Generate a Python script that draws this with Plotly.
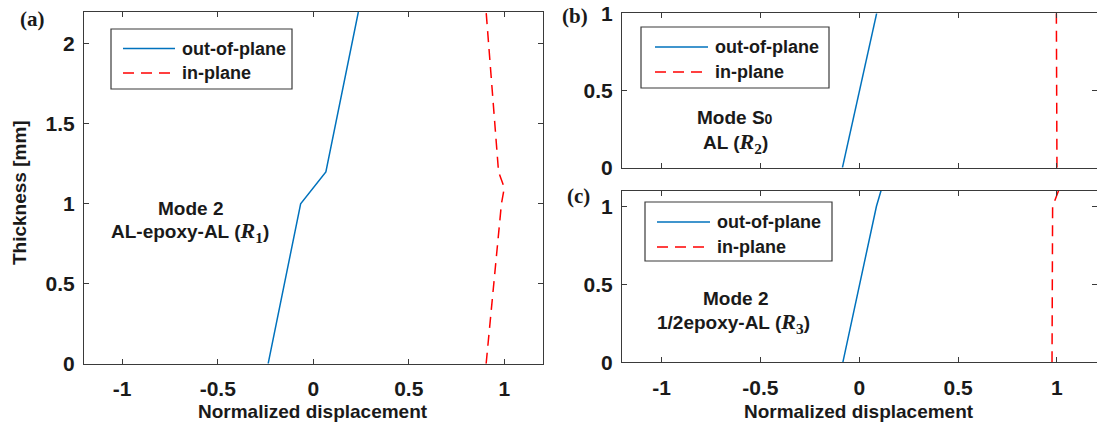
import plotly.graph_objects as go

# ---- data: normalized displacement profiles through the thickness ----
# (a) Mode 2, AL-epoxy-AL (R1)
a_out_x = [-0.236, -0.066, 0.066, 0.236]
a_out_y = [0.0, 1.0, 1.2, 2.2]
a_in_x = [0.905, 0.985, 1.0, 0.97, 0.905]
a_in_y = [0.0, 1.0, 1.1, 1.2, 2.2]

# (b) Mode S0, AL (R2)
b_out_x = [-0.085, 0.088]
b_out_y = [0.0, 1.0]
b_in_x = [1.0, 0.997]
b_in_y = [0.0, 1.0]

# (c) Mode 2, 1/2epoxy-AL (R3)
c_out_x = [-0.083, 0.087, 0.11]
c_out_y = [0.0, 1.0, 1.1]
c_in_x = [0.975, 0.978, 1.008]
c_in_y = [0.0, 1.0, 1.1]

x_ticks = [-1, -0.5, 0, 0.5, 1]
x_tick_text = ["-1", "-0.5", "0", "0.5", "1"]
ya_ticks = [0, 0.5, 1, 1.5, 2]
ya_tick_text = ["0", "0.5", "1", "1.5", "2"]
ybc_ticks = [0, 0.5, 1]
ybc_tick_text = ["0", "0.5", "1"]

series_names = ["out-of-plane", "in-plane"]

W, H = 1097, 430
BLUE = "#0072BD"
RED = "#FF0000"
AXC = "#3a3a3a"
TXT = "#1a1a1a"
SANS = "Liberation Sans, Arial, sans-serif"
SERIF = "Liberation Serif, Times New Roman, serif"
DASH = "11px,7px"


def px(x):
    return x / W


def py(y):
    return 1 - y / H


fig = go.Figure()

panels = [
    ("x", "y", a_out_x, a_out_y, a_in_x, a_in_y),
    ("x2", "y2", b_out_x, b_out_y, b_in_x, b_in_y),
    ("x3", "y3", c_out_x, c_out_y, c_in_x, c_in_y),
]
for xa, ya, ox, oy, ix, iy in panels:
    fig.add_trace(go.Scatter(x=ox, y=oy, mode="lines", name=series_names[0],
                             line=dict(color=BLUE, width=1.5),
                             xaxis=xa, yaxis=ya, showlegend=False))
    fig.add_trace(go.Scatter(x=ix, y=iy, mode="lines", name=series_names[1],
                             line=dict(color=RED, width=1.5, dash=DASH),
                             xaxis=xa, yaxis=ya, showlegend=False))

tickfont = dict(family=SANS, size=21, color=TXT, weight="bold")
common_axis = dict(showline=True, linecolor=AXC, linewidth=1, mirror="ticks",
                   ticks="inside", ticklen=5, tickcolor=AXC, tickwidth=1,
                   showgrid=False, zeroline=False, tickfont=tickfont,
                   automargin=False, fixedrange=True)

fig.update_layout(
    width=W, height=H,
    margin=dict(l=0, r=0, t=0, b=0, pad=0, autoexpand=False),
    paper_bgcolor="white", plot_bgcolor="white",
    showlegend=False,
    xaxis=dict(domain=[px(84), px(542.5)], range=[-1.2, 1.2], anchor="y",
               tickvals=x_ticks, ticktext=x_tick_text, ticklabelstandoff=6,
               **common_axis),
    yaxis=dict(domain=[py(363.7), py(12)], range=[0, 2.2], anchor="x",
               tickvals=ya_ticks, ticktext=ya_tick_text, ticklabelstandoff=4,
               **common_axis),
    xaxis2=dict(domain=[px(622), px(1096.5)], range=[-1.2, 1.2], anchor="y2",
                tickvals=x_ticks, ticktext=x_tick_text, showticklabels=False,
                **common_axis),
    yaxis2=dict(domain=[py(167.7), py(13.3)], range=[0, 1], anchor="x2",
                tickvals=ybc_ticks, ticktext=ybc_tick_text, ticklabelstandoff=4,
                **common_axis),
    xaxis3=dict(domain=[px(622), px(1096.5)], range=[-1.2, 1.2], anchor="y3",
                tickvals=x_ticks, ticktext=x_tick_text, ticklabelstandoff=6,
                **common_axis),
    yaxis3=dict(domain=[py(362.3), py(190.7)], range=[0, 1.1], anchor="x3",
                tickvals=ybc_ticks, ticktext=ybc_tick_text, ticklabelstandoff=4,
                **common_axis),
)

annot_font = dict(family=SANS, size=19, color=TXT, weight="bold")
legend_font = dict(family=SANS, size=18, color=TXT, weight="bold")
label_font = dict(family=SERIF, size=21, color=TXT, weight="bold")

# legend boxes: (left, top, right, bottom, sample start, sample end, text x, row1 y, row2 y)
legend_boxes = [
    (111, 29, 292, 89, 123, 175, 180, 48.5, 73),
    (641, 27, 829, 88, 655, 708, 713, 47, 72),
    (645, 202, 832, 261, 657, 710, 715, 222, 247),
]
shapes = []
annotations = []
for l, t, r, b, s0, s1, tx, r1, r2 in legend_boxes:
    shapes.append(dict(type="rect", xref="paper", yref="paper",
                       x0=px(l), x1=px(r), y0=py(b), y1=py(t),
                       line=dict(color=AXC, width=1.2), fillcolor="white"))
    shapes.append(dict(type="line", xref="paper", yref="paper",
                       x0=px(s0), x1=px(s1), y0=py(r1), y1=py(r1),
                       line=dict(color=BLUE, width=1.5)))
    shapes.append(dict(type="line", xref="paper", yref="paper",
                       x0=px(s0), x1=px(s1), y0=py(r2), y1=py(r2),
                       line=dict(color=RED, width=1.5, dash=DASH)))
    annotations.append(dict(x=px(tx), y=py(r1), text=series_names[0],
                            font=legend_font, xanchor="left"))
    annotations.append(dict(x=px(tx), y=py(r2), text=series_names[1],
                            font=legend_font, xanchor="left"))


def r_sym(n):
    return ("<span style='font-family:Liberation Serif, serif; font-size:22px'>"
            f"<i>R</i><sub>{n}</sub></span>")


annotations += [
    # panel tags
    dict(x=px(32), y=py(19), text="(a)", font=label_font),
    dict(x=px(575), y=py(16), text="(b)", font=label_font),
    dict(x=px(578), y=py(196), text="(c)", font=label_font),
    # axis titles
    dict(x=px(19), y=py(193), text="Thickness [mm]", textangle=-90, font=annot_font),
    dict(x=px(313), y=py(411), text="Normalized displacement", font=annot_font),
    dict(x=px(859), y=py(411), text="Normalized displacement", font=annot_font),
    # case descriptions
    dict(x=px(190), y=py(209), text="Mode 2", font=annot_font),
    dict(x=px(190), y=py(232), text=f"AL-epoxy-AL ({r_sym(1)})", font=annot_font),
    dict(x=px(735), y=py(118),
         text="Mode S<span style='font-size:14px'>0</span>", font=annot_font),
    dict(x=px(735), y=py(143), text=f"AL ({r_sym(2)})", font=annot_font),
    dict(x=px(735), y=py(298), text="Mode 2", font=annot_font),
    dict(x=px(733), y=py(323), text=f"1/2epoxy-AL ({r_sym(3)})", font=annot_font),
]
for a in annotations:
    a.setdefault("xanchor", "center")
    a.update(xref="paper", yref="paper", showarrow=False, yanchor="middle")

fig.update_layout(shapes=shapes, annotations=annotations)

fig.write_html("out.html")
